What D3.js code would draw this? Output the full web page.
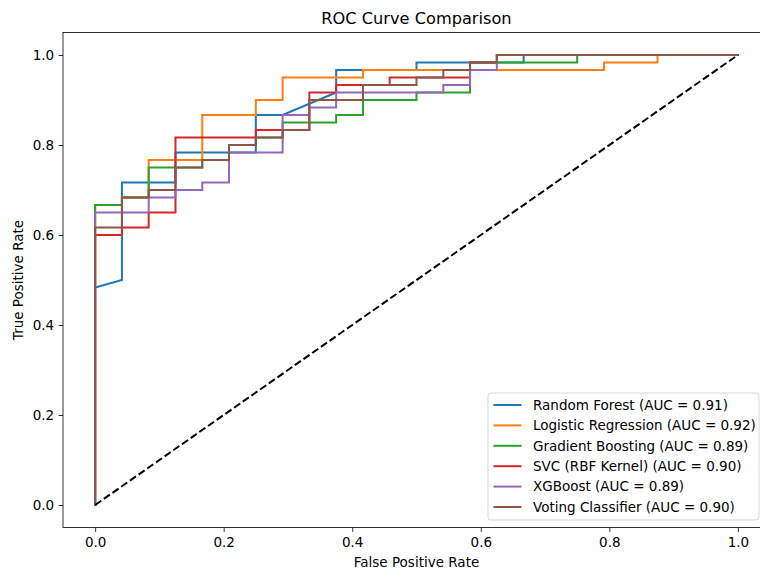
<!DOCTYPE html>
<html>
<head>
<meta charset="utf-8">
<script src="https://cdn.jsdelivr.net/npm/d3@7"></script>
<style>
  html, body { margin: 0; padding: 0; background: #ffffff; }
  svg { display: block; font-family: "DejaVu Sans", sans-serif; }
</style>
</head>
<body>
<svg id="chart" width="760" height="574"></svg>
<script>
// ---- data ----
const modelNames = ["Random Forest", "Logistic Regression", "Gradient Boosting", "SVC (RBF Kernel)", "XGBoost", "Voting Classifier"];
const aucValues = [0.91, 0.92, 0.89, 0.90, 0.89, 0.90];
const colors = ["#1f77b4", "#ff7f0e", "#2ca02c", "#d62728", "#9467bd", "#8c564b"];

const rfFpr = [0, 0, 0.0417, 0.0417, 0.125, 0.125, 0.25, 0.25, 0.2917, 0.375, 0.375, 0.5, 0.5, 0.6667, 0.6667, 1];
const rfTpr = [0, 0.4833, 0.5, 0.7167, 0.7167, 0.7833, 0.7833, 0.8667, 0.8667, 0.9167, 0.9667, 0.9667, 0.9833, 0.9833, 1, 1];

const lrFpr = [0, 0, 0.0417, 0.0417, 0.0833, 0.0833, 0.1667, 0.1667, 0.25, 0.25, 0.2917, 0.2917, 0.4167, 0.4167, 0.7917, 0.7917, 0.875, 0.875, 1];
const lrTpr = [0, 0.6667, 0.6667, 0.6833, 0.6833, 0.7667, 0.7667, 0.8667, 0.8667, 0.9, 0.9, 0.95, 0.95, 0.9667, 0.9667, 0.9833, 0.9833, 1, 1];

const gbFpr = [0, 0, 0.0417, 0.0417, 0.0833, 0.0833, 0.1667, 0.1667, 0.2083, 0.2083, 0.25, 0.25, 0.2917, 0.2917, 0.375, 0.375, 0.4167, 0.4167, 0.5, 0.5, 0.5833, 0.5833, 0.75, 0.75, 1];
const gbTpr = [0, 0.6667, 0.6667, 0.6833, 0.6833, 0.75, 0.75, 0.7667, 0.7667, 0.8, 0.8, 0.8167, 0.8167, 0.85, 0.85, 0.8667, 0.8667, 0.9, 0.9, 0.9167, 0.9167, 0.9833, 0.9833, 1, 1];

const svcFpr = [0, 0, 0.0417, 0.0417, 0.0833, 0.0833, 0.125, 0.125, 0.25, 0.25, 0.3333, 0.3333, 0.375, 0.375, 0.4583, 0.4583, 0.5833, 0.5833, 0.625, 0.625, 1];
const svcTpr = [0, 0.6, 0.6, 0.6167, 0.6167, 0.65, 0.65, 0.8167, 0.8167, 0.8333, 0.8333, 0.9167, 0.9167, 0.9333, 0.9333, 0.95, 0.95, 0.9833, 0.9833, 1, 1];

const xgbFpr = [0, 0, 0.0833, 0.0833, 0.125, 0.125, 0.1667, 0.1667, 0.2083, 0.2083, 0.2917, 0.2917, 0.3333, 0.3333, 0.375, 0.375, 0.5417, 0.5417, 0.5833, 0.5833, 0.625, 0.625, 1];
const xgbTpr = [0, 0.65, 0.65, 0.6833, 0.6833, 0.7, 0.7, 0.7167, 0.7167, 0.7833, 0.7833, 0.8667, 0.8667, 0.8833, 0.8833, 0.9167, 0.9167, 0.9333, 0.9333, 0.9667, 0.9667, 1, 1];

const vcFpr = [0, 0, 0.0417, 0.0417, 0.0833, 0.0833, 0.125, 0.125, 0.1667, 0.1667, 0.2083, 0.2083, 0.25, 0.25, 0.2917, 0.2917, 0.3333, 0.3333, 0.4167, 0.4167, 0.5, 0.5, 0.5417, 0.5417, 0.5833, 0.5833, 0.625, 0.625, 1];
const vcTpr = [0, 0.6167, 0.6167, 0.6833, 0.6833, 0.7, 0.7, 0.75, 0.75, 0.7667, 0.7667, 0.8, 0.8, 0.8167, 0.8167, 0.8333, 0.8333, 0.9, 0.9, 0.9333, 0.9333, 0.95, 0.95, 0.9667, 0.9667, 0.9833, 0.9833, 1, 1];

const diagX = [0, 1];
const diagY = [0, 1];

const xTicks = [0, 0.2, 0.4, 0.6, 0.8, 1.0];
const yTicks = [0, 0.2, 0.4, 0.6, 0.8, 1.0];

const titleText = "ROC Curve Comparison";
const xLabelText = "False Positive Rate";
const yLabelText = "True Positive Rate";

// ---- layout ----
const svg = d3.select("#chart");
const L = 63, R = 770, T = 32.5, B = 527.5;
const x = d3.scaleLinear().domain([-0.05, 1.05]).range([L, R]);
const y = d3.scaleLinear().domain([-0.05, 1.05]).range([B, T]);
const fs = 13.5;

const curves = [
  [rfFpr, rfTpr], [lrFpr, lrTpr], [gbFpr, gbTpr],
  [svcFpr, svcTpr], [xgbFpr, xgbTpr], [vcFpr, vcTpr]
];

const line = d3.line().x(d => x(d[0])).y(d => y(d[1]));

const plot = svg.append("g");
curves.forEach((c, i) => {
  const pts = c[0].map((v, j) => [v, c[1][j]]);
  plot.append("path")
    .attr("d", line(pts))
    .attr("fill", "none")
    .attr("stroke", colors[i])
    .attr("stroke-width", 2)
    .attr("stroke-linejoin", "miter")
    .attr("stroke-linecap", "square");
});

plot.append("path")
  .attr("d", line(diagX.map((v, j) => [v, diagY[j]])))
  .attr("fill", "none")
  .attr("stroke", "#000")
  .attr("stroke-width", 2)
  .attr("stroke-dasharray", "7.4,3.2");

// axes
const xAxis = d3.axisBottom(x).tickValues(xTicks).tickFormat(d3.format(".1f")).tickSizeOuter(0).tickSize(4.4).tickPadding(4.4);
const yAxis = d3.axisLeft(y).tickValues(yTicks).tickFormat(d3.format(".1f")).tickSizeOuter(0).tickSize(4.4).tickPadding(4.4);

const gx = svg.append("g").attr("transform", `translate(0,${B})`).call(xAxis);
const gy = svg.append("g").attr("transform", `translate(${L},0)`).call(yAxis);
[gx, gy].forEach(g => {
  g.select(".domain").remove();
  g.selectAll(".tick line").attr("stroke", "#000").attr("stroke-width", 0.8);
  g.selectAll(".tick text").attr("fill", "#000").attr("font-size", fs).attr("font-family", "DejaVu Sans");
});
gx.selectAll(".tick text").attr("dy", "0.76em");
gy.selectAll(".tick text").attr("dy", "0.36em");

// spines
svg.append("rect")
  .attr("x", L).attr("y", T).attr("width", R - L).attr("height", B - T)
  .attr("fill", "none").attr("stroke", "#000").attr("stroke-width", 0.8);

// title & labels
svg.append("text").attr("x", (L + R) / 2).attr("y", 24).attr("text-anchor", "middle")
  .attr("font-size", 16.2).attr("fill", "#000").text(titleText);
svg.append("text").attr("x", (L + R) / 2).attr("y", 567).attr("text-anchor", "middle")
  .attr("font-size", fs).attr("fill", "#000").text(xLabelText);
svg.append("text").attr("transform", `translate(22.5,${(T + B) / 2}) rotate(-90)`).attr("text-anchor", "middle")
  .attr("font-size", fs).attr("fill", "#000").text(yLabelText);

// legend
const lg = svg.append("g");
const lgX = 488, lgY = 393, lgW = 271, lgH = 127;
lg.append("rect").attr("x", lgX).attr("y", lgY).attr("width", lgW).attr("height", lgH)
  .attr("rx", 3).attr("fill", "#fff").attr("fill-opacity", 0.8)
  .attr("stroke", "#cccccc").attr("stroke-width", 0.8);
const rowY = d3.scaleLinear().domain([0, 5]).range([405, 507]);
modelNames.forEach((n, i) => {
  const ry = rowY(i);
  lg.append("line").attr("x1", 493.5).attr("x2", 521.5).attr("y1", ry).attr("y2", ry)
    .attr("stroke", colors[i]).attr("stroke-width", 2);
  lg.append("text").attr("x", 533).attr("y", ry).attr("dy", "0.36em")
    .attr("font-size", fs).attr("fill", "#000")
    .text(`${n} (AUC = ${aucValues[i].toFixed(2)})`);
});
</script>
</body>
</html>
